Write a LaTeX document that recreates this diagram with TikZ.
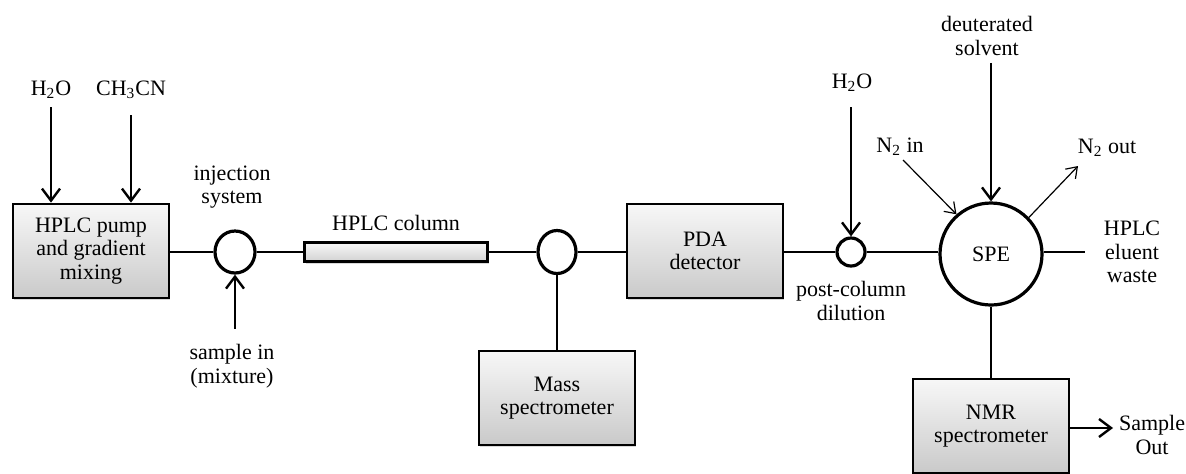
\documentclass[tikz,border=0pt]{standalone}
\usepackage{fontspec}
\setmainfont{Liberation Serif}
\usepackage{tikz}
\usetikzlibrary{positioning,arrows.meta,shapes,shadows}
\tikzstyle{unit}  = [rectangle, draw, line width=1.4pt, minimum width=78pt, minimum height=47pt, align=center, top color=gray!6, bottom color=gray!42, drop shadow={shadow xshift=.6pt, shadow yshift=-1.2pt, opacity=.3}]
\tikzstyle{valve} = [ellipse, draw, line width=1.6pt, fill=white, inner sep=0pt]
\tikzstyle{arrow} = [line width=1.2pt, -{Straight Barb[length=6pt,width=9pt]}]
\tikzstyle{thinarrow} = [line width=.6pt, -{Straight Barb[length=5pt,width=7pt]}]

\begin{document}
\begin{tikzpicture}[x=0.5pt, y=-0.5pt, font=\fontsize{11}{11.8}\selectfont,
			label/.style={align=center, inner sep=1pt},
			pipe/.style={line width=1.2pt}]
		\useasboundingbox (0,0) rectangle (1186,473);

		\node[unit] (pump) at (91,251) {HPLC pump\\and gradient\\mixing};
		\node[valve, minimum width=20pt, minimum height=21pt] (inject) at (235,252) {};
		\node[rectangle, draw, line width=1.4pt, minimum width=91.5pt, minimum height=9.5pt, inner sep=0pt, top color=gray!6, bottom color=gray!35, drop shadow={shadow xshift=.6pt, shadow yshift=-1pt, opacity=.3}] (column) at (396,252) {};
		\node[valve, minimum width=19pt, minimum height=21.5pt] (split) at (557,252) {};
		\node[unit] (pda) at (705,251) {PDA\\detector};
		\node[unit] (ms) at (557,398) {Mass\\spectrometer};
		\node[valve, minimum width=14pt, minimum height=14pt] (dilute) at (851,252) {};
		\node[valve, circle, minimum size=51pt] (spe) at (991,254) {SPE};
		\node[unit] (nmr) at (991,426) {NMR\\spectrometer};

		\node[label] (water) at (51,90) {H\textsubscript{2}O};
		\node[label] (acn) at (131,90) {CH\textsubscript{3}CN};
		\node[label] (injlbl) at (232,187) {injection\\system};
		\node[label] (sample) at (232,366) {sample in\\(mixture)};
		\node[label] (collbl) at (396,223) {HPLC column};
		\node[label] (water2) at (852,83) {H\textsubscript{2}O};
		\node[label] (dillbl) at (851,301) {post-column\\dilution};
		\node[label] (deut) at (987,36) {deuterated\\solvent};
		\node[label] (nin) at (900,147) {N\textsubscript{2} in};
		\node[label] (nout) at (1107,148) {N\textsubscript{2} out};
		\node[label] (waste) at (1132,252) {HPLC\\eluent\\waste};
		\node[label] (out) at (1152,435) {Sample\\Out};

		\coordinate (wasteend) at (1085,252);
		\coordinate (ninstart) at (903,160);
		\coordinate (noutend) at (1078,166);
		\coordinate (outend) at (1113,428);

		\draw[pipe] (pump.east |- inject) -- (inject.west);
		\draw[pipe] (inject.east) -- (column.west);
		\draw[pipe] (column.east) -- (split.west);
		\draw[pipe] (split.east) -- (pda.west |- split);
		\draw[pipe] (pda.east |- dilute) -- (dilute.west);
		\draw[pipe] (dilute.east) -- (spe.west |- dilute);
		\draw[pipe] (spe.east |- dilute) -- (wasteend);
		\draw[pipe] (split.south) -- (ms.north);
		\draw[pipe] (spe.south) -- (nmr.north);

		\draw[arrow] ([yshift=-3pt]water.south) -- (water |- pump.north);
		\draw[arrow] ([yshift=-7pt]acn.south) -- (acn |- pump.north);
		\draw[arrow] ([yshift=6.5pt]sample.north -| inject) -- (inject.south);
		\draw[arrow] ([yshift=-6.5pt]water2.south -| dilute) -- (dilute.north);
		\draw[arrow] ([yshift=-2.5pt]deut.south -| spe) -- (spe.north);
		\draw[thinarrow] (ninstart) -- (spe.131);
		\draw[thinarrow] (spe.44) -- (noutend);
		\draw[arrow] (nmr.east |- outend) -- (outend);
	\end{tikzpicture}
\end{document}
